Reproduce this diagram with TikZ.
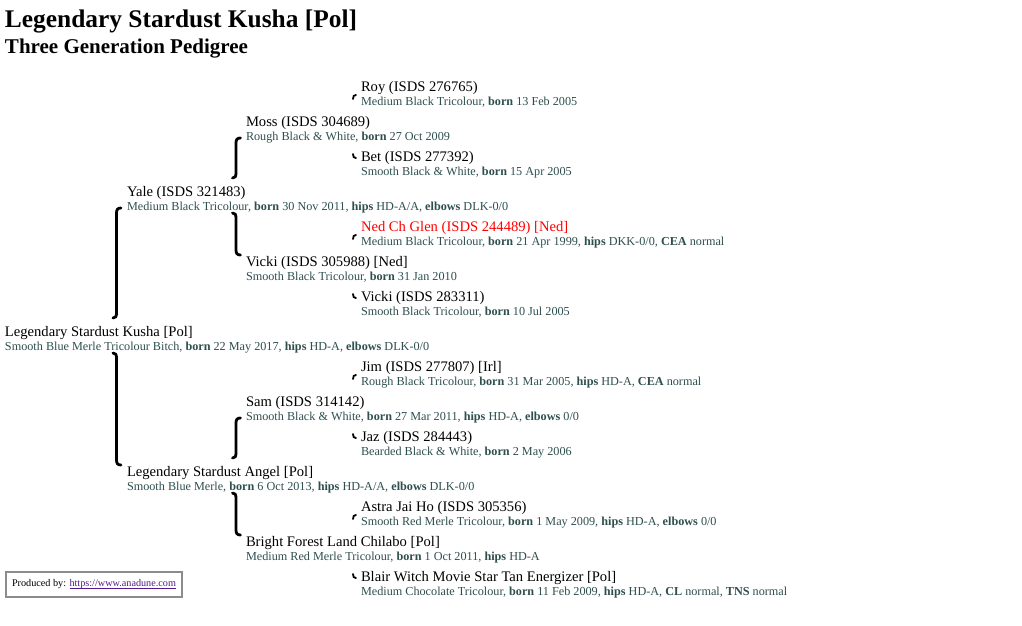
\documentclass[tikz,border=0pt]{standalone}
\usepackage{fontspec}
\setmainfont{Liberation Serif}
\definecolor{infocol}{HTML}{2F4F4F}
\definecolor{nedred}{HTML}{FF0000}
\definecolor{linkcol}{HTML}{551A8B}
\definecolor{boxgray}{HTML}{8C8C8C}
\tikzset{
  nm/.style={anchor=base west, inner sep=0pt, outer sep=0pt, font=\fontsize{14.6}{16}\selectfont, text=black},
  inf/.style={anchor=base west, inner sep=0pt, outer sep=0pt, font=\fontsize{12.2}{14}\selectfont, text=infocol},
  brk/.style={line width=2.8pt, black, line cap=round},
  hk/.style={line width=1.8pt, black, line cap=round},
  ttl/.style={anchor=base west, inner sep=0pt, outer sep=0pt, font=\fontsize{25.4}{28}\selectfont\bfseries},
  subttl/.style={anchor=base west, inner sep=0pt, outer sep=0pt, font=\fontsize{21}{24}\selectfont\bfseries},
  prodbox/.style={draw=boxgray, line width=2pt, minimum width=176pt, minimum height=25pt, inner sep=0pt, font=\fontsize{10.2}{12}\selectfont}
}
\newcommand{\dog}[5]{%
  \node[nm] (#1) at (#2,#3+5) {#4};
  \node[inf] (#1i) at (#2,#3+19.3) {#5};}
\newcommand{\sirebr}[3]{%
  \draw[brk] (#1+4.5,#2) .. controls (#1+1.2,#2) and (#1,#2+1.5) .. (#1,#2+5) -- (#1,#3-5) .. controls (#1,#3-1.5) and (#1-1,#3) .. (#1-3.5,#3);}
\newcommand{\dambr}[3]{%
  \draw[brk] (#1-3.5,#2) .. controls (#1-1,#2) and (#1,#2+1.5) .. (#1,#2+5) -- (#1,#3-5) .. controls (#1,#3-1.5) and (#1+1.2,#3) .. (#1+4.5,#3);}
\newcommand{\sirehk}[2]{%
  \draw[hk] (#1+3,#2) .. controls (#1+1,#2) and (#1,#2+1) .. (#1,#2+4);}
\newcommand{\damhk}[2]{%
  \draw[hk] (#1,#2-4) .. controls (#1,#2-1) and (#1+1,#2) .. (#1+3,#2);}
\begin{document}
\begin{tikzpicture}[x=1pt,y=-1pt]
\useasboundingbox (0,0) rectangle (1022,626);
\fill[white] (0,0) rectangle (1022,626);
% titles
\node[ttl] (title) at (5,28) {Legendary Stardust Kusha [Pol]};
\node[subttl] (subtitle) at (5,53) {Three Generation Pedigree};
% generation 3
\dog{roy}{361}{86}{Roy (ISDS 276765)}{Medium Black Tricolour, \textbf{born} 13 Feb 2005}
\dog{bet}{361}{156}{Bet (ISDS 277392)}{Smooth Black \& White, \textbf{born} 15 Apr 2005}
\dog{ned}{361}{226}{\textcolor{nedred}{Ned Ch Glen (ISDS 244489) [Ned]}}{Medium Black Tricolour, \textbf{born} 21 Apr 1999, \textbf{hips} DKK-0/0, \textbf{CEA} normal}
\dog{vickiB}{361}{296}{Vicki (ISDS 283311)}{Smooth Black Tricolour, \textbf{born} 10 Jul 2005}
\dog{jim}{361}{366}{Jim (ISDS 277807) [Irl]}{Rough Black Tricolour, \textbf{born} 31 Mar 2005, \textbf{hips} HD-A, \textbf{CEA} normal}
\dog{jaz}{361}{436}{Jaz (ISDS 284443)}{Bearded Black \& White, \textbf{born} 2 May 2006}
\dog{astra}{361}{506}{Astra Jai Ho (ISDS 305356)}{Smooth Red Merle Tricolour, \textbf{born} 1 May 2009, \textbf{hips} HD-A, \textbf{elbows} 0/0}
\dog{blair}{361}{576}{Blair Witch Movie Star Tan Energizer [Pol]}{Medium Chocolate Tricolour, \textbf{born} 11 Feb 2009, \textbf{hips} HD-A, \textbf{CL} normal, \textbf{TNS} normal}
% generation 2
\dog{moss}{246}{121}{Moss (ISDS 304689)}{Rough Black \& White, \textbf{born} 27 Oct 2009}
\dog{vickiA}{246}{261}{Vicki (ISDS 305988) [Ned]}{Smooth Black Tricolour, \textbf{born} 31 Jan 2010}
\dog{sam}{246}{401}{Sam (ISDS 314142)}{Smooth Black \& White, \textbf{born} 27 Mar 2011, \textbf{hips} HD-A, \textbf{elbows} 0/0}
\dog{bright}{246}{541}{Bright Forest Land Chilabo [Pol]}{Medium Red Merle Tricolour, \textbf{born} 1 Oct 2011, \textbf{hips} HD-A}
% generation 1
\dog{yale}{127}{191}{Yale (ISDS 321483)}{Medium Black Tricolour, \textbf{born} 30 Nov 2011, \textbf{hips} HD-A/A, \textbf{elbows} DLK-0/0}
\dog{angel}{127}{471}{Legendary Stardust Angel [Pol]}{Smooth Blue Merle, \textbf{born} 6 Oct 2013, \textbf{hips} HD-A/A, \textbf{elbows} DLK-0/0}
% generation 0
\dog{kusha}{5}{331}{Legendary Stardust Kusha [Pol]}{Smooth Blue Merle Tricolour Bitch, \textbf{born} 22 May 2017, \textbf{hips} HD-A, \textbf{elbows} DLK-0/0}
% brackets gen 0-1
\sirebr{116.5}{208}{318}
\dambr{116.5}{353}{465}
% brackets gen 1-2
\sirebr{236}{138}{178}
\dambr{236}{213}{255}
\sirebr{236}{418}{458}
\dambr{236}{493}{535}
% hooks gen 2-3
\sirehk{353}{95}
\damhk{353}{158}
\sirehk{353}{235}
\damhk{353}{298}
\sirehk{353}{375}
\damhk{353}{438}
\sirehk{353}{515}
\damhk{353}{578}
% producer box
\node[prodbox, anchor=north west] (prod) at (5,571) {Produced by: \textcolor{linkcol}{\underline{\smash{https://www.anadune.com}}}};
\end{tikzpicture}
\end{document}
